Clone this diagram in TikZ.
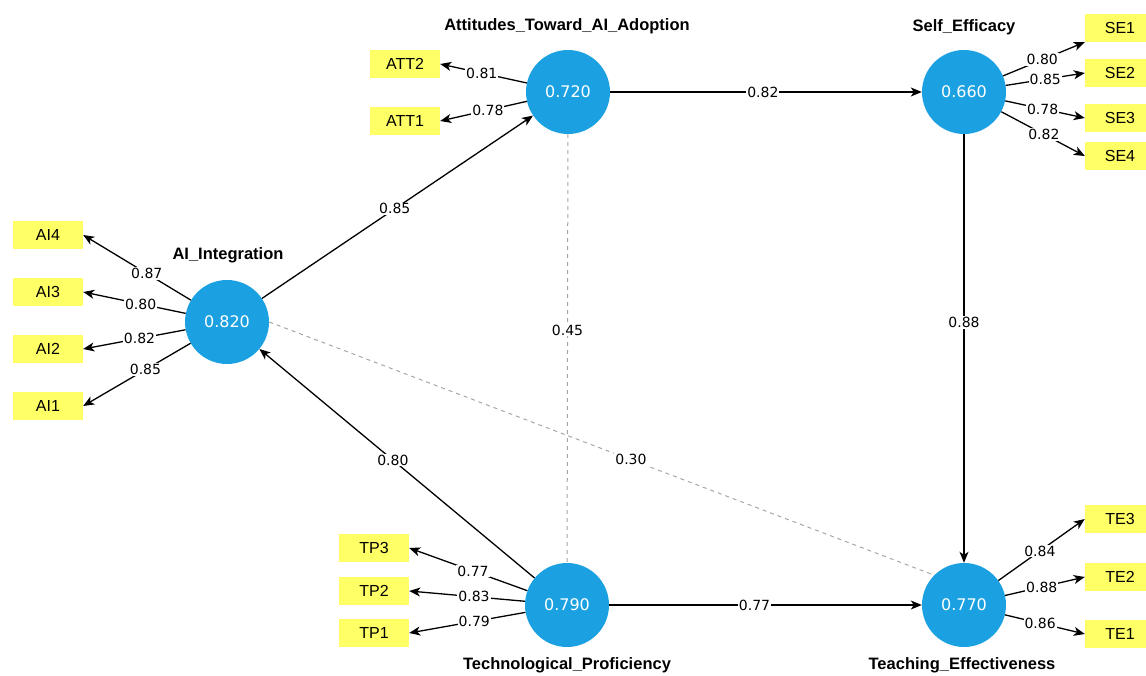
\documentclass[tikz,border=0pt]{standalone}
\usepackage{fontspec}
\setmainfont{Liberation Sans}
\newfontfamily\valfont{DejaVu Sans}
\usetikzlibrary{arrows.meta}
\definecolor{lvblue}{HTML}{1BA1E2}
\definecolor{indyellow}{HTML}{FFFF66}
\tikzset{
  latent/.style={circle, fill=lvblue, minimum size=84pt, inner sep=0pt,
    text=white, font=\valfont\fontsize{16}{18}\selectfont},
  indicator/.style={rectangle, fill=indyellow, minimum width=70pt,
    minimum height=28pt, inner sep=0pt, font=\fontsize{16}{18}\selectfont},
  title/.style={font=\bfseries\fontsize{16.5}{19}\selectfont},
  loading/.style={fill=white, inner sep=1pt, font=\valfont\fontsize{14}{16}\selectfont},
  path/.style={line width=1.3pt, -{Stealth[length=11pt,width=9pt,inset=3pt]}},
  weak/.style={line width=1pt, gray!70, dash pattern=on 4pt off 4pt}
}
\begin{document}
\begin{tikzpicture}[x=1pt, y=-1pt]
    \useasboundingbox (0,0) rectangle (1146,676);
    % latent variables
    \node[latent] (AI)  at (227,322) {0.820};
    \node[latent] (ATT) at (568,92)  {0.720};
    \node[latent] (SE)  at (964,92)  {0.660};
    \node[latent] (TP)  at (567,605) {0.790};
    \node[latent] (TE)  at (964,605) {0.770};
    \node[title] (AIt)  at (228,255) {AI\_Integration};
    \node[title] (ATTt) at (567,26)  {Attitudes\_Toward\_AI\_Adoption};
    \node[title] (SEt)  at (964,27)  {Self\_Efficacy};
    \node[title] (TPt)  at (567,665) {Technological\_Proficiency};
    \node[title] (TEt)  at (962,665) {Teaching\_Effectiveness};
    % indicators
    \node[indicator] (AI4) at (48,235) {AI4};
    \node[indicator] (AI3) at (48,292) {AI3};
    \node[indicator] (AI2) at (48,349) {AI2};
    \node[indicator] (AI1) at (48,406) {AI1};
    \node[indicator] (ATT2) at (405,64)  {ATT2};
    \node[indicator] (ATT1) at (405,121) {ATT1};
    \node[indicator] (SE1) at (1120,28)  {SE1};
    \node[indicator] (SE2) at (1120,73)  {SE2};
    \node[indicator] (SE3) at (1120,118) {SE3};
    \node[indicator] (SE4) at (1120,156) {SE4};
    \node[indicator] (TP3) at (374,548) {TP3};
    \node[indicator] (TP2) at (374,591) {TP2};
    \node[indicator] (TP1) at (374,633) {TP1};
    \node[indicator] (TE3) at (1120,519) {TE3};
    \node[indicator] (TE2) at (1120,577) {TE2};
    \node[indicator] (TE1) at (1120,634) {TE1};
    % outer loadings
    \draw[path] (AI) -- node[loading, pos=0.41] {0.87} (AI4.east);
    \draw[path] (AI) -- node[loading, pos=0.44] {0.80} (AI3.east);
    \draw[path] (AI) -- node[loading, pos=0.45] {0.82} (AI2.east);
    \draw[path] (AI) -- node[loading, pos=0.42] {0.85} (AI1.east);
    \draw[path] (ATT) -- node[loading, pos=0.52] {0.81} (ATT2.east);
    \draw[path] (ATT) -- node[loading, pos=0.45] {0.78} (ATT1.east);
    \draw[path] (SE) -- node[loading, pos=0.48] {0.80} (SE1.south west);
    \draw[path] (SE) -- node[loading, pos=0.50] {0.85} (SE2.west);
    \draw[path] (SE) -- node[loading, pos=0.47] {0.78} (SE3.west);
    \draw[path] (SE) -- node[loading, pos=0.51] {0.82} (SE4.west);
    \draw[path] (TP) -- node[loading, pos=0.46] {0.77} (TP3.east);
    \draw[path] (TP) -- node[loading, pos=0.44] {0.83} (TP2.east);
    \draw[path] (TP) -- node[loading, pos=0.44] {0.79} (TP1.east);
    \draw[path] (TE) -- node[loading, pos=0.48] {0.84} (TE3.west);
    \draw[path] (TE) -- node[loading, pos=0.46] {0.88} (TE2.west);
    \draw[path] (TE) -- node[loading, pos=0.44] {0.86} (TE1.west);
    % structural paths
    \draw[path] (AI)  -- node[loading, pos=0.49] {0.85} (ATT);
    \draw[path] (ATT) -- node[loading, pos=0.49] {0.82} (SE);
    \draw[path] (SE)  -- node[loading, pos=0.44] {0.88} (TE);
    \draw[path] (TP)  -- node[loading, pos=0.515] {0.80} (AI);
    \draw[path] (TP)  -- node[loading, pos=0.465] {0.77} (TE);
    % non-significant paths
    \draw[weak] (ATT) -- node[loading, pos=0.457, text=black] {0.45} (TP);
    \draw[weak] (AI.east) -- node[loading, pos=0.544, text=black] {0.30} (TE.135);
\end{tikzpicture}
\end{document}
